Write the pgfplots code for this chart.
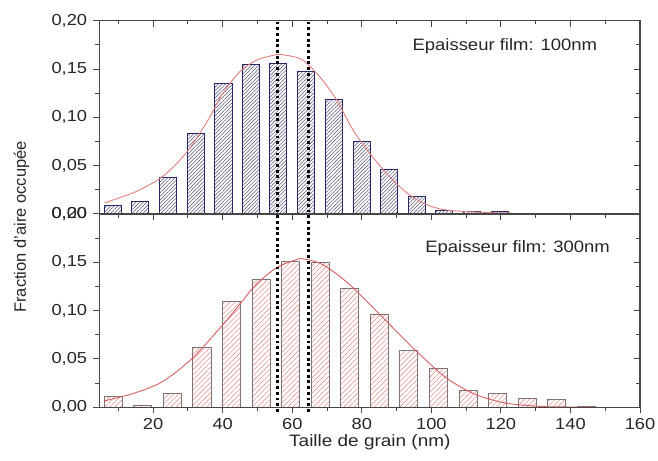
\documentclass[border=0pt]{standalone}
\usepackage{fontspec}
\setmainfont{Liberation Sans}
\usepackage{pgfplots}
\pgfplotsset{compat=1.18}
\usetikzlibrary{patterns,patterns.meta}

\definecolor{topedge}{RGB}{40,40,105}
\definecolor{tophatch}{RGB}{85,85,120}
\definecolor{botedge}{RGB}{130,115,115}
\definecolor{bothatch}{RGB}{230,150,150}
\definecolor{topfit}{RGB}{228,125,125}
\definecolor{botfit}{RGB}{215,95,95}
\definecolor{axcol}{RGB}{70,70,70}

\pgfplotsset{
  panel/.style={
    scale only axis, width=360.7pt, height=128.9pt,
    xmin=4.5, xmax=160, ymin=0, ymax=0.2,
    xtick={20,40,...,160}, minor xtick={10,30,...,150},
    ytick={0,0.05,0.1,0.15,0.2}, minor ytick={0.025,0.075,0.125,0.175},
    axis line style={draw=axcol, line width=0.9pt},
    major tick length=4pt, minor tick length=2.5pt,
    every tick/.style={draw=axcol, line width=0.6pt},
    /pgf/number format/assume math mode=true,
    tick label style={font=\fontsize{10.6}{12}\selectfont, text=black!85, xscale=1.15},
    yticklabel style={/pgf/number format/.cd, fixed, fixed zerofill, precision=2, use comma},
    xticklabel style={/pgf/number format/.cd, fixed, precision=0},
  },
  mainax/.style={panel, xtick pos=left, ytick pos=left, tick align=outside},
  overax/.style={panel, xtick pos=right, ytick pos=right, tick align=inside, xticklabels={}, yticklabels={}},
}

\pgfplotstableread{
x y
8.4 0.0084
16.3 0.0126
24.3 0.0383
32.2 0.0833
40.2 0.1348
48.1 0.1544
56.0 0.1560
64.0 0.1478
71.9 0.1183
79.9 0.0754
87.8 0.0462
95.8 0.0184
103.7 0.0036
111.6 0.0026
119.6 0.0026
}\topbars

\pgfplotstableread{
x y
8.5 0.0110
17.0 0.0024
25.5 0.0141
34.0 0.0621
42.5 0.1093
51.0 0.1321
59.5 0.1514
68.0 0.1495
76.5 0.1230
85.0 0.0960
93.5 0.0590
102.0 0.0405
110.5 0.0174
119.0 0.0140
127.5 0.0093
136.0 0.0077
144.5 0.0008
}\botbars

\begin{document}
\begin{tikzpicture}
\path[use as bounding box] (-66.2pt,-35.8pt) rectangle (372.7pt,271.6pt);

% bottom panel
\begin{axis}[mainax, at={(0pt,0pt)}, anchor=south west]
\addplot[ybar, bar width=5.2, bar shift=0pt, draw=botedge, line width=0.4pt,
  pattern={Lines[angle=45,distance=2.4pt,line width=0.4pt]}, pattern color=bothatch]
  table[x=x,y=y] {\botbars};
\addplot[botfit, line width=0.6pt, smooth, tension=0.5] coordinates {
(6,0.0068) (7.3,0.0076) (15,0.0150) (22.7,0.0265) (31.3,0.0507) (40,0.0852)
(44.8,0.1059) (49.5,0.1266) (55.3,0.1439) (61,0.1525) (63.2,0.1535) (68.9,0.1473)
(76.6,0.1266) (86.2,0.0921) (95.8,0.0576) (104.4,0.0300) (113,0.0127) (121.7,0.0041)
(131.3,0.0008) (140,0.0002) (147,0.0)};
\end{axis}
\begin{axis}[overax, at={(0pt,0pt)}, anchor=south west]
\end{axis}

% top panel
\begin{axis}[mainax, at={(0pt,128.9pt)}, anchor=south west, xticklabels={}, clip=false]
\addplot[ybar, bar width=4.9, bar shift=0pt, draw=topedge, line width=0.55pt,
  pattern={Lines[angle=45,distance=1.7pt,line width=0.35pt]}, pattern color=tophatch]
  table[x=x,y=y] {\topbars};
\addplot[topfit, line width=0.6pt, smooth, tension=0.5] coordinates {
(6,0.0115) (7.3,0.0130) (15,0.0230) (22.7,0.0386) (29.4,0.0627) (35.2,0.0936)
(40,0.1245) (44.8,0.1468) (49.5,0.1588) (54.3,0.1640) (56.5,0.1650) (60,0.1630)
(63.2,0.1588) (68,0.1416) (72.8,0.1176) (77.5,0.0867) (82.3,0.0627) (87.1,0.0421)
(91.9,0.0249) (96.7,0.0129) (101.5,0.0061) (106.3,0.0033) (115.9,0.0015) (123,0.0010)};
\addplot[black, line width=1.9pt, dash pattern=on 1.9pt off 1.9pt] coordinates {(55.7,-0.2048) (55.7,0.2018)};
\addplot[black, line width=1.9pt, dash pattern=on 1.9pt off 1.9pt] coordinates {(64.6,-0.2048) (64.6,0.2018)};
\end{axis}
\begin{axis}[overax, at={(0pt,128.9pt)}, anchor=south west]
\end{axis}

\node[rotate=90, font=\fontsize{11}{13}\selectfont, text=black!85] at (-51.9pt,120.2pt) {Fraction d'aire occupée};
\node[font=\fontsize{11}{13}\selectfont, xscale=1.15, text=black!85] at (180.5pt,-23.3pt) {Taille de grain (nm)};
\node[font=\fontsize{11}{13}\selectfont, xscale=1.12, text=black!85] at (270.5pt,240.9pt) {Epaisseur film: 100nm};
\node[font=\fontsize{11}{13}\selectfont, xscale=1.12, text=black!85] at (279pt,105.8pt) {Epaisseur film: 300nm};
\end{tikzpicture}
\end{document}
